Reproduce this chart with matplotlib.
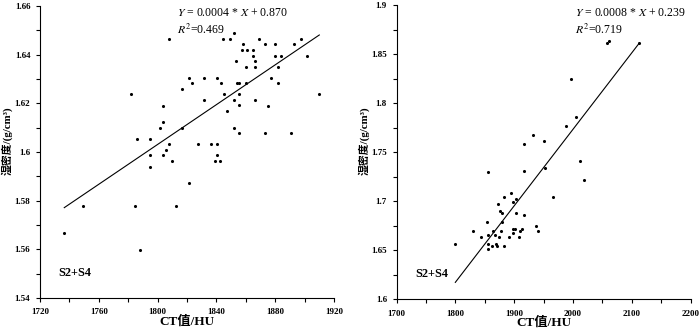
import matplotlib
matplotlib.use("Agg")
import matplotlib.pyplot as plt
from matplotlib.ticker import MultipleLocator

plt.rcParams['font.family'] = ['Liberation Serif', 'Noto Sans CJK SC']
plt.rcParams['mathtext.fontset'] = 'stix'

# left panel data (CT value vs wet density)
ct_left = [
    1736.5, 1749.3, 1784.4, 1788.2, 1794.6, 1812.7, 1821.4, 1781.9, 1786.2,
    1794.8, 1794.8, 1808.0, 1803.5, 1803.5, 1801.6, 1807.8, 1805.7, 1803.5,
    1810.0, 1816.4, 1816.6, 1821.4, 1823.2, 1827.7, 1831.8, 1831.8, 1836.6,
    1839.1, 1840.7, 1840.7, 1842.3, 1840.7, 1842.9, 1844.7, 1845.4, 1847.2,
    1849.3, 1851.8, 1851.8, 1851.8, 1858.0, 1853.6, 1853.8, 1855.6, 1855.6,
    1855.6, 1855.6, 1857.6, 1860.6, 1859.9, 1859.9, 1864.7, 1864.7, 1866.5,
    1866.5, 1866.5, 1868.8, 1872.9, 1872.9, 1875.3, 1877.1, 1879.7, 1879.7,
    1881.7, 1881.7, 1884.2, 1890.7, 1892.8, 1897.3, 1901.6, 1910.0,
]
rho_left = [
    1.5666, 1.5780, 1.5780, 1.5596, 1.5939, 1.5780, 1.5872, 1.6238, 1.6055,
    1.6055, 1.5986, 1.6466, 1.6190, 1.6123, 1.6100, 1.6031, 1.6008, 1.5986,
    1.5963, 1.6260, 1.6100, 1.6306, 1.6283, 1.6031, 1.6306, 1.6215, 1.6031,
    1.5963, 1.6031, 1.5986, 1.5963, 1.6306, 1.6283, 1.6466, 1.6238, 1.6168,
    1.6466, 1.6488, 1.6215, 1.6100, 1.6443, 1.6375, 1.6283, 1.6283, 1.6238,
    1.6192, 1.6077, 1.6420, 1.6420, 1.6351, 1.6283, 1.6420, 1.6396, 1.6375,
    1.6351, 1.6215, 1.6466, 1.6443, 1.6077, 1.6191, 1.6306, 1.6443, 1.6396,
    1.6351, 1.6283, 1.6396, 1.6077, 1.6443, 1.6466, 1.6396, 1.6238,
]

# right panel data
ct_right = [
    2057.1, 2061.6, 2112.0, 1996.4, 2005.5, 1988.0, 1931.3, 1916.5, 1951.0,
    2011.7, 1855.8, 1916.0, 1952.0, 2018.5, 1966.3, 1799.7, 1829.8, 1842.9,
    1853.0, 1855.8, 1855.8, 1855.8, 1862.6, 1864.3, 1866.7, 1868.9, 1871.0,
    1873.5, 1872.8, 1875.2, 1879.6, 1877.4, 1879.6, 1882.0, 1882.0, 1891.0,
    1894.9, 1897.3, 1897.3, 1901.7, 1898.3, 1903.4, 1903.4, 1908.0, 1910.2,
    1912.6, 1916.0, 1936.4, 1940.3,
]
rho_right = [
    1.8615, 1.8633, 1.8612, 1.8248, 1.7860, 1.7771, 1.7680, 1.7588, 1.7612,
    1.7408, 1.7296, 1.7312, 1.7337, 1.7220, 1.7044, 1.6564, 1.6697, 1.6632,
    1.6789, 1.6656, 1.6564, 1.6516, 1.6541, 1.6697, 1.6656, 1.6564, 1.6541,
    1.6636, 1.6972, 1.6904, 1.6881, 1.6697, 1.6789, 1.7041, 1.6541, 1.6636,
    1.7085, 1.6996, 1.6720, 1.6720, 1.6677, 1.7020, 1.6881, 1.6633, 1.6700,
    1.6720, 1.6857, 1.6745, 1.6697,
]

# tick values and their labels
xticks_left = [1720, 1760, 1800, 1840, 1880, 1920]
yticks_left = [1.54, 1.56, 1.58, 1.60, 1.62, 1.64, 1.66]
ylabels_left = ["1.54", "1.56", "1.58", "1.6", "1.62", "1.64", "1.66"]
xticks_right = [1700, 1800, 1900, 2000, 2100, 2200]
yticks_right = [1.60, 1.65, 1.70, 1.75, 1.80, 1.85, 1.90]
ylabels_right = ["1.6", "1.65", "1.7", "1.75", "1.8", "1.85", "1.9"]

# fitted lines as drawn (slope, intercept)
fit_left = (0.000409, 0.8669)
fit_right = (0.0007804, 0.2128)

eq_left = r"$\it{Y}$ = 0.0004 * $\it{X}$ + 0.870"
r2_left = r"$\it{R}^{2}$=0.469"
eq_right = r"$\it{Y}$ = 0.0008 * $\it{X}$ + 0.239"
r2_right = r"$\it{R}^{2}$=0.719"


def draw_panel(ax, x, y, fit, eq, r2, xticks, yticks, ylabels,
               xstep, ystep, eq_x):
    ax.scatter(x, y, s=5, color="black", zorder=3, linewidths=0)
    x0, x1 = min(x), max(x)
    ax.plot([x0, x1], [fit[0] * x0 + fit[1], fit[0] * x1 + fit[1]],
            color="black", linewidth=0.8)

    ax.set_xlim(xticks[0], xticks[-1])
    ax.set_ylim(yticks[0], yticks[-1])
    ax.set_xticks(xticks)
    ax.set_xticklabels([str(v) for v in xticks], fontsize=6.5,
                       fontweight="bold")
    ax.set_yticks(yticks)
    ax.set_yticklabels(ylabels, fontsize=6.5, fontweight="bold")
    ax.xaxis.set_minor_locator(MultipleLocator(xstep))
    ax.yaxis.set_minor_locator(MultipleLocator(ystep))

    for s in ["top", "right"]:
        ax.spines[s].set_visible(False)
    for s in ["left", "bottom"]:
        ax.spines[s].set_linewidth(0.8)

    ax.tick_params(which="both", direction="out", length=3, width=0.8)
    ax.tick_params(axis="x", pad=4.5)
    ax.tick_params(axis="y", pad=4)

    ax.set_xlabel("CT值/HU", fontsize=9.5, fontweight="bold", va="center")
    ax.xaxis.set_label_coords(0.5, -0.08)
    ax.set_ylabel("湿密度/(g/cm³)", fontsize=7.8, fontweight="bold",
                  va="center")
    ax.yaxis.set_label_coords(-0.112, 0.54)

    ax.text(eq_x, 0.975, eq, transform=ax.transAxes, fontsize=8.5,
            va="center", ha="left")
    ax.text(eq_x, 0.918, r2, transform=ax.transAxes, fontsize=8.5,
            va="center", ha="left")
    ax.text(0.062, 0.085, "S2+S4", transform=ax.transAxes, fontsize=8.8,
            fontweight="bold", va="center", ha="left")


fig = plt.figure(figsize=(7, 3.3), dpi=100)
ax1 = fig.add_axes([40 / 700, 32 / 330, 294 / 700, 292 / 330])
ax2 = fig.add_axes([396.7 / 700, 30.7 / 330, 294 / 700, 294 / 330])

draw_panel(ax1, ct_left, rho_left, fit_left, eq_left, r2_left,
           xticks_left, yticks_left, ylabels_left, 20, 0.01, 0.465)
draw_panel(ax2, ct_right, rho_right, fit_right, eq_right, r2_right,
           xticks_right, yticks_right, ylabels_right, 50, 0.025, 0.605)

fig.savefig("out.png", dpi=100)
